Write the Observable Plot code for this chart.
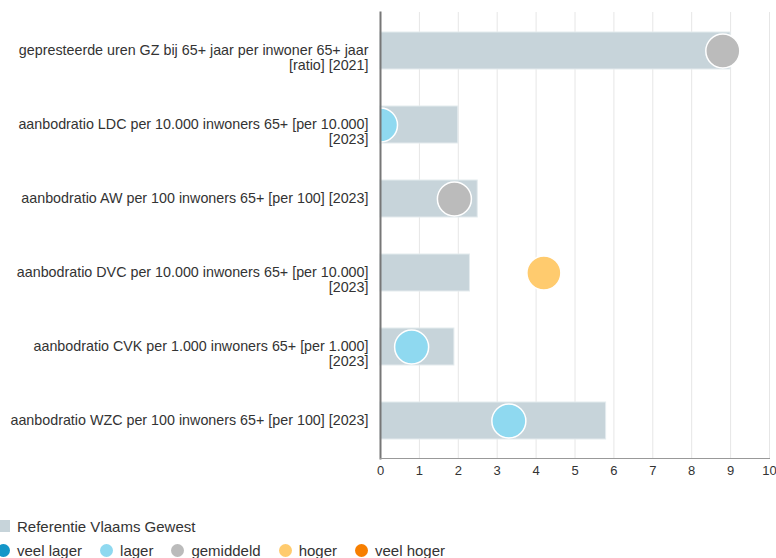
<!DOCTYPE html>
<html>
<head>
<meta charset="utf-8">
<script src="https://cdn.jsdelivr.net/npm/d3@7"></script>
<script src="https://cdn.jsdelivr.net/npm/@observablehq/plot@0.6"></script>
<style>
  body { margin: 0; background: #fff; font-family: "Liberation Sans", Arial, sans-serif; }
  #chart svg { display: block; }
  #legend { font-size: 15px; color: #333; }
  .row { display: flex; align-items: center; height: 20px; white-space: nowrap; }
  .item { display: flex; align-items: center; margin-right: 18px; }
  .sq { width: 10px; height: 12px; background: #c7d4da; margin-right: 7px; }
  .dot { width: 13px; height: 13px; border-radius: 50%; margin-right: 7px; }
</style>
</head>
<body>
<div id="chart"></div>
<div id="legend"></div>
<script>
const categories = [
  "gepresteerde uren GZ bij 65+ jaar per inwoner 65+ jaar\n[ratio] [2021]",
  "aanbodratio LDC per 10.000 inwoners 65+ [per 10.000]\n[2023]",
  "aanbodratio AW per 100 inwoners 65+ [per 100] [2023]",
  "aanbodratio DVC per 10.000 inwoners 65+ [per 10.000]\n[2023]",
  "aanbodratio CVK per 1.000 inwoners 65+ [per 1.000]\n[2023]",
  "aanbodratio WZC per 100 inwoners 65+ [per 100] [2023]"
];
const referenceValues = [9.0, 2.0, 2.5, 2.3, 1.9, 5.8];
const localValues = [8.8, 0.0, 1.9, 4.2, 0.8, 3.3];
const localClasses = ["gemiddeld", "lager", "gemiddeld", "hoger", "lager", "lager"];
const legendClasses = ["veel lager", "lager", "gemiddeld", "hoger", "veel hoger"];
const legendColors = ["#1496c8", "#8fd9f0", "#bbbbbb", "#ffcb6e", "#f77f00"];
const referenceLabel = "Referentie Vlaams Gewest";
const xTicks = [0, 1, 2, 3, 4, 5, 6, 7, 8, 9, 10];

const rows = categories.map((c, i) => ({
  cat: c, ref: referenceValues[i], val: localValues[i], cls: localClasses[i]
}));

const chart = Plot.plot({
  width: 776,
  height: 490,
  marginLeft: 380,
  marginRight: 7,
  marginTop: 12,
  marginBottom: 32,
  style: { fontFamily: "'Liberation Sans', Arial, sans-serif", fontSize: "14px", color: "#333" },
  x: { domain: [0, 10], ticks: xTicks },
  y: { domain: categories, paddingInner: 0.5, paddingOuter: 0.25, axis: null },
  color: { domain: legendClasses, range: legendColors },
  marks: [
    Plot.gridX(xTicks.slice(1), { stroke: "#e6e6e6", strokeOpacity: 1 }),
    Plot.barX(rows, { y: "cat", x: "ref", fill: "#c7d4da", stroke: "#e4ebee", strokeWidth: 1 }),
    Plot.dot(rows, { y: "cat", x: "val", fill: "cls", r: 17, stroke: "#fff", strokeWidth: 1.5, clip: "frame" }),
    Plot.frame({ anchor: "left", stroke: "#777", strokeWidth: 2 }),
    Plot.frame({ anchor: "bottom", stroke: "#999", strokeWidth: 1 }),
    Plot.axisX({ ticks: xTicks, tickSize: 0, tickPadding: 7, fontSize: 13, fill: "#333" }),
    Plot.text(rows, { y: "cat", x: () => 0, text: "cat", textAnchor: "end", dx: -12, lineAnchor: "top", dy: -7, lineHeight: 1.05, fontSize: 14.3, fill: "#333" })
  ]
});
document.getElementById("chart").appendChild(chart);

const legend = document.getElementById("legend");
legend.innerHTML = `
  <div class="row" style="margin-top:26px"><div class="sq"></div><span>${referenceLabel}</span></div>
  <div class="row" style="margin-top:4px;margin-left:-3px">${legendClasses.map((c, i) =>
    `<div class="item"><div class="dot" style="background:${legendColors[i]}"></div><span>${c}</span></div>`).join("")}</div>`;
</script>
</body>
</html>
